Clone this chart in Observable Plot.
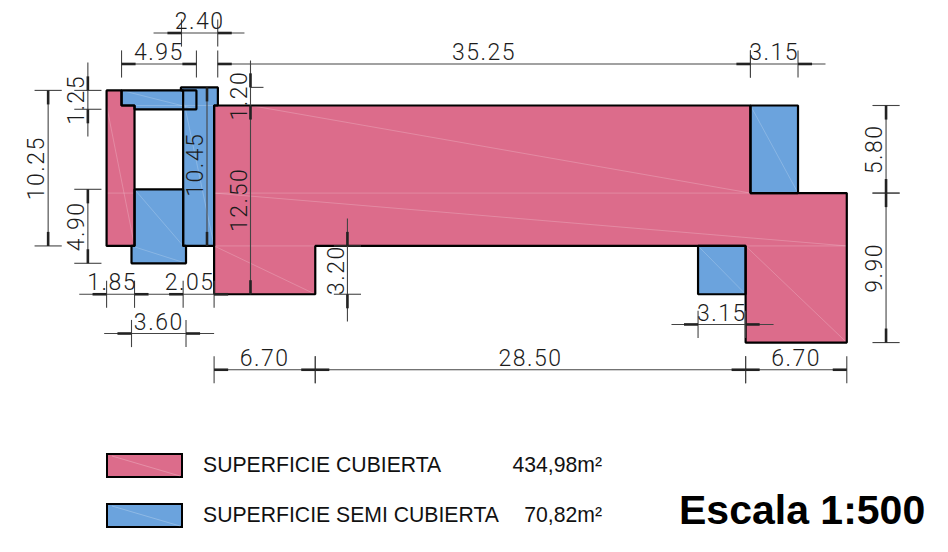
<!DOCTYPE html>
<html><head><meta charset="utf-8">
<script src="https://cdn.jsdelivr.net/npm/d3@7"></script>
<script src="https://cdn.jsdelivr.net/npm/@observablehq/plot@0.6"></script>
<style>
html,body{margin:0;padding:0;background:#fff;overflow:hidden}
#wrap{width:948px;height:552px;position:relative}
#chart svg text{letter-spacing:1.5px}
#legend{position:relative;width:948px;height:112px;font-family:"Liberation Sans",Arial,sans-serif;color:#111}
#legend span{position:absolute;white-space:nowrap;line-height:24px}
#legend svg{position:absolute;display:block}
</style></head><body><div id="wrap"><div id="chart"></div><div id="legend"></div></div>
<script>
// Plan geometry, in metres, origin at the top-left corner of the main block
const coveredShapes = [
  [[-7.12,-1],[-6.13,-1],[-6.13,0],[-5.27,0],[-5.27,9.3],[-7.12,9.3]],
  [[0,0],[35.52,0],[35.52,5.8],[41.9,5.8],[41.9,15.7],[35.2,15.7],[35.2,9.3],[6.7,9.3],[6.7,12.5],[0,12.5]]
];
const semiShapes = [
  [[-2.2,-1.2],[0.25,-1.2],[0.25,0],[0,0],[0,9.3],[-2.05,9.3],[-2.05,-1],[-2.2,-1]],
  [[-6.13,-1],[-1.17,-1],[-1.17,0.25],[-5.27,0.25],[-5.27,0],[-6.13,0]],
  [[-5.27,5.55],[-2.05,5.55],[-2.05,9.3],[-1.86,9.3],[-1.86,10.45],[-5.47,10.45],[-5.47,9.3],[-5.27,9.3]],
  [[35.52,0],[38.67,0],[38.67,5.8],[35.52,5.8]],
  [[32.05,9.3],[35.2,9.3],[35.2,12.5],[32.05,12.5]]
];
// Faint hatch edges left in the fills: x1,y1,x2,y2
const hatch = [
  [2.4,0,35.52,5.8],[0,5.8,41.9,5.8],[0,5.8,41.9,9.3],[0,9.3,35.2,9.3],[35.2,9.3,41.9,9.3],
  [0,9.3,6.7,12.5],[35.2,9.3,41.9,15.7],[-7.12,0,-5.27,9.3],[-7.12,5.8,-5.27,5.8],
  [-6.13,-1,-1.17,0.25],[-5.27,0,0,0],[-2.2,-1.2,0,9.3],[35.52,0,38.67,5.8],[32.05,9.3,35.2,12.5],
  [-5.27,5.55,-2.05,9.3],[-5.47,9.3,-1.86,10.45]
];
// Dimensions: label, from, to, offset line position, line extent, heavy direction at each end, ticks?, label shift
const horizontalDims = [
  {t:"2.40", a:-2.16,b:0.24, at:-4.8, lo:-4.01,hi:2.01, ha:[-1],hb:[1]},
  {t:"4.95", a:-6.13,b:-1.17,at:-2.75,ha:[1],hb:[-1]},
  {t:"35.25",a:0.24,b:35.52, at:-2.75,ha:[1],hb:[-1]},
  {t:"3.15", a:35.52,b:38.67,at:-2.75,hi:40.49,ha:[],hb:[1]},
  {t:"1.85", a:-7.12,b:-5.27,at:12.5, lo:-8.93,hi:-4.35,ha:[-1],hb:[1],s:-0.56},
  {t:"2.05", a:-2.05,b:0,    at:12.5, lo:-4.35,hi:0.9,ha:[-1],hb:[1],s:-0.6},
  {t:"3.60", a:-5.47,b:-1.86,at:15.1, lo:-7.28,hi:0,ha:[-1],hb:[1]},
  {t:"3.15", a:32.05,b:35.2, at:14.5, lo:30.29,hi:37.05,ha:[-1],hb:[1]},
  {t:"6.70", a:0,b:6.7,      at:17.5, ha:[1],hb:[-1]},
  {t:"28.50",a:6.7,b:35.2,   at:17.5, ha:[1],hb:[-1]},
  {t:"6.70", a:35.2,b:41.9,  at:17.5, ha:[1],hb:[-1]}
];
const verticalDims = [
  {t:"10.25",a:-1,b:9.3,     at:-10.99,ha:[1],hb:[-1]},
  {t:"1.25", a:-1,b:0.25,    at:-8.36, lo:-2.85,hi:2.05,ha:[-1],hb:[1]},
  {t:"4.90", a:5.55,b:10.45, at:-8.36, ha:[1],hb:[-1]},
  {t:"1.20", a:-1.2,b:0,     at:2.41,  lo:-2.98,ha:[-1],hb:[1],noTick:true,s:-0.05},
  {t:"12.50",a:0,b:12.5,     at:2.41,  ha:[],hb:[-1],noTick:true},
  {t:"10.45",a:-1.2,b:9.3,   at:-0.47, ha:[1],hb:[-1],noTick:true,s:-0.12},
  {t:"3.20", a:9.3,b:12.5,   at:8.83,  lo:7.48,hi:14.3,ha:[-1],hb:[1]},
  {t:"5.80", a:0,b:5.8,      at:44.5,  ha:[1],hb:[-1]},
  {t:"9.90", a:5.8,b:15.7,   at:44.5,  ha:[1],hb:[-1]}
];
const oneSidedTicks = [[2.41,-1.2,3.27,-1.2]];
const legendRows = [
  {label:"SUPERFICIE CUBIERTA", area:"434,98m²", color:"#DC6C8B"},
  {label:"SUPERFICIE SEMI CUBIERTA", area:"70,82m²", color:"#6BA3DD"}
];
const scaleLabel = "Escala 1:500";

const PINK = legendRows[0].color, BLUE = legendRows[1].color;
const PX = 15.1, HEAVY = 0.93, TICK = 0.9;

const toPts = (shapes, fill, prefix) => shapes.flatMap((s,i)=>s.map(p=>({x:p[0],y:p[1],id:prefix+i,fill})));
const polys = [...toPts(coveredShapes,PINK,"c"), ...toPts(semiShapes,BLUE,"s")];

const thin = [], heavy = [], labels = [];
for (const d of horizontalDims) {
  thin.push([d.lo ?? d.a, d.at, d.hi ?? d.b, d.at]);
  for (const [p,dirs] of [[d.a,d.ha],[d.b,d.hb]]) {
    thin.push([p,d.at-TICK,p,d.at+TICK]);
    for (const s of dirs) heavy.push([p,d.at,p+s*HEAVY,d.at]);
  }
  labels.push({t:d.t,x:(d.a+d.b)/2+(d.s||0),y:d.at-0.26,r:0});
}
for (const d of verticalDims) {
  thin.push([d.at, d.lo ?? d.a, d.at, d.hi ?? d.b]);
  for (const [p,dirs] of [[d.a,d.ha],[d.b,d.hb]]) {
    if (!d.noTick) thin.push([d.at-TICK,p,d.at+TICK,p]);
    for (const s of dirs) heavy.push([d.at,p,d.at,p+s*HEAVY]);
  }
  labels.push({t:d.t,x:d.at-0.25,y:(d.a+d.b)/2+(d.s||0),r:-90});
}
thin.push(...oneSidedTicks);

const seg = (arr,o)=>Plot.link(arr,{x1:d=>d[0],y1:d=>d[1],x2:d=>d[2],y2:d=>d[3],...o});
const H = 440;
const textOpts = {text:"t",x:"x",y:"y",textAnchor:"middle",lineAnchor:"bottom",fontFamily:"Roboto",fontWeight:300,fontSize:23,fill:"#1c1c1c"};

const chart = Plot.plot({
  width:948,height:H,margin:0,
  x:{axis:null,domain:[-213.6/PX,(948-213.6)/PX],range:[0,948]},
  y:{axis:null,domain:[-105/PX,(H-105)/PX],range:[0,H]},
  marks:[
    Plot.line(polys,{x:"x",y:"y",z:"id",fill:"fill",stroke:"none",curve:"linear-closed"}),
    seg(hatch,{stroke:"#fff",strokeOpacity:0.26,strokeWidth:0.8}),
    Plot.line(polys,{x:"x",y:"y",z:"id",fill:"none",stroke:"#000",strokeWidth:2.2,curve:"linear-closed",strokeLinejoin:"miter"}),
    seg(thin,{stroke:"#444",strokeWidth:1.1}),
    seg(heavy,{stroke:"#222",strokeWidth:2.6}),
    Plot.text(labels.filter(d=>d.r===0),textOpts),
    Plot.text(labels.filter(d=>d.r!==0),{...textOpts,rotate:-90})
  ]
});
document.getElementById("chart").append(chart);

const lg = document.getElementById("legend");
const add = (css,txt)=>{const s=document.createElement("span");s.style.cssText=css;s.textContent=txt;lg.append(s);};
legendRows.forEach((r,i)=>{
  const top = 13+i*50;
  const sw = d3.create("svg").attr("width",77).attr("height",25).style("left","106px").style("top",top+"px");
  sw.append("rect").attr("x",1).attr("y",1).attr("width",75).attr("height",23).attr("fill",r.color).attr("stroke","#000").attr("stroke-width",2);
  sw.append("line").attr("x1",6).attr("y1",3).attr("x2",74).attr("y2",23).attr("stroke","#fff").attr("stroke-opacity",.3).attr("stroke-width",.8);
  lg.append(sw.node());
  add(`left:203px;top:${top}px;font-size:21.2px`,r.label);
  add(`right:346px;top:${top}px;font-size:21.2px`,r.area);
});
add("left:679px;top:47px;font-size:41px;font-weight:bold;line-height:46px;color:#000",scaleLabel);
</script></body></html>
